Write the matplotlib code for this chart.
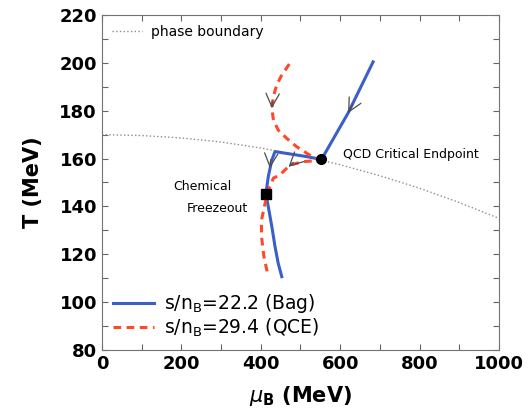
import matplotlib.pyplot as plt
from matplotlib.ticker import MultipleLocator

# phase boundary (dotted)
pb_mu = [0, 100, 200, 300, 400, 500, 600, 700, 800, 900, 1000]
pb_T = [170.0, 169.6, 168.6, 166.9, 164.4, 161.3, 157.4, 152.8, 147.6, 141.6, 135.0]

# s/nB = 22.2 (Bag)
bag_mu = [683, 620, 553, 516, 474, 436, 428, 419, 413, 419, 428, 436, 444, 453]
bag_T = [200.4, 179.0, 159.6, 160.8, 161.9, 162.9, 159.4, 152.4, 145.2, 139.9, 131.5, 123.2, 116.2, 110.6]

# s/nB = 29.4 (QCE)
qce_mu = [472, 453, 440, 432, 428, 432, 444, 465, 490, 516, 537, 549,
          507, 474, 448, 432, 423, 411, 402, 402, 408, 419]
qce_T = [199.5, 194.9, 190.7, 185.9, 181.0, 176.1, 171.9, 168.5, 165.0, 162.2, 160.1, 159.2,
         158.7, 157.3, 153.1, 151.8, 148.3, 141.3, 134.3, 127.4, 119.0, 110.6]

cep = (553, 159.6)
freeze = (413, 145.2)

# arrows: (tail, head)
arrows = [((429, 184), (428, 181)),
          ((632, 182.7), (620, 179)),
          ((425, 159.5), (423, 156)),
          ((482, 158.4), (470, 156.5))]


def main():
    fig = plt.figure(figsize=(5.28, 4.17), dpi=100)
    ax = fig.add_axes([0.193, 0.161, 0.752, 0.803])

    h0, = ax.plot(pb_mu, pb_T, ':', color='0.55', lw=1.0)
    l1, = ax.plot(bag_mu, bag_T, '-', color='#3a5fc8', lw=2.2)
    l2, = ax.plot(qce_mu, qce_T, '--', color='#ff4a2a', lw=2.2, dashes=(2.5, 1.8))
    ax.plot(*cep, 'o', color='black', ms=7)
    ax.plot(*freeze, 's', color='black', ms=7)

    for tail, head in arrows:
        ax.annotate('', xy=head, xytext=tail,
                    arrowprops=dict(arrowstyle='->', color='0.3', lw=0.9,
                                    mutation_scale=24, shrinkA=0, shrinkB=0))

    ax.text(607, 161.5, 'QCD Critical Endpoint', fontsize=9, va='center')
    ax.text(179, 148.1, 'Chemical', fontsize=9, va='center')
    ax.text(214, 138.9, 'Freezeout', fontsize=9, va='center')

    ax.set_xlim(0, 1000)
    ax.set_ylim(80, 220)
    ax.xaxis.set_major_locator(MultipleLocator(200))
    ax.xaxis.set_minor_locator(MultipleLocator(100))
    ax.yaxis.set_major_locator(MultipleLocator(20))
    ax.yaxis.set_minor_locator(MultipleLocator(10))
    ax.tick_params(which='both', direction='in', top=True, right=True,
                   color='0.4', width=0.8)
    ax.tick_params(which='major', length=4, labelsize=13)
    ax.tick_params(which='minor', length=4)
    for lab in ax.get_xticklabels() + ax.get_yticklabels():
        lab.set_fontweight('bold')
    for sp in ax.spines.values():
        sp.set_color('0.45')

    ax.set_xlabel(r'$\mu_\mathregular{B}$ (MeV)', fontsize=15, fontweight='bold', labelpad=8)
    ax.set_ylabel('T (MeV)', fontsize=15, fontweight='bold', labelpad=12)

    leg1 = ax.legend([h0], ['phase boundary'], loc='upper left', frameon=False,
                     fontsize=10, handlelength=2.2, borderaxespad=0.3,
                     handletextpad=0.6)
    ax.add_artist(leg1)
    ax.legend([l1, l2], [r'$\mathregular{s/n_B}$=22.2 (Bag)', r'$\mathregular{s/n_B}$=29.4 (QCE)'],
              loc='lower left', frameon=False, fontsize=13.5, handlelength=2.2,
              labelspacing=0.05, borderaxespad=0.2, handletextpad=0.5)

    fig.savefig('out.png', dpi=100)


if __name__ == '__main__':
    main()
